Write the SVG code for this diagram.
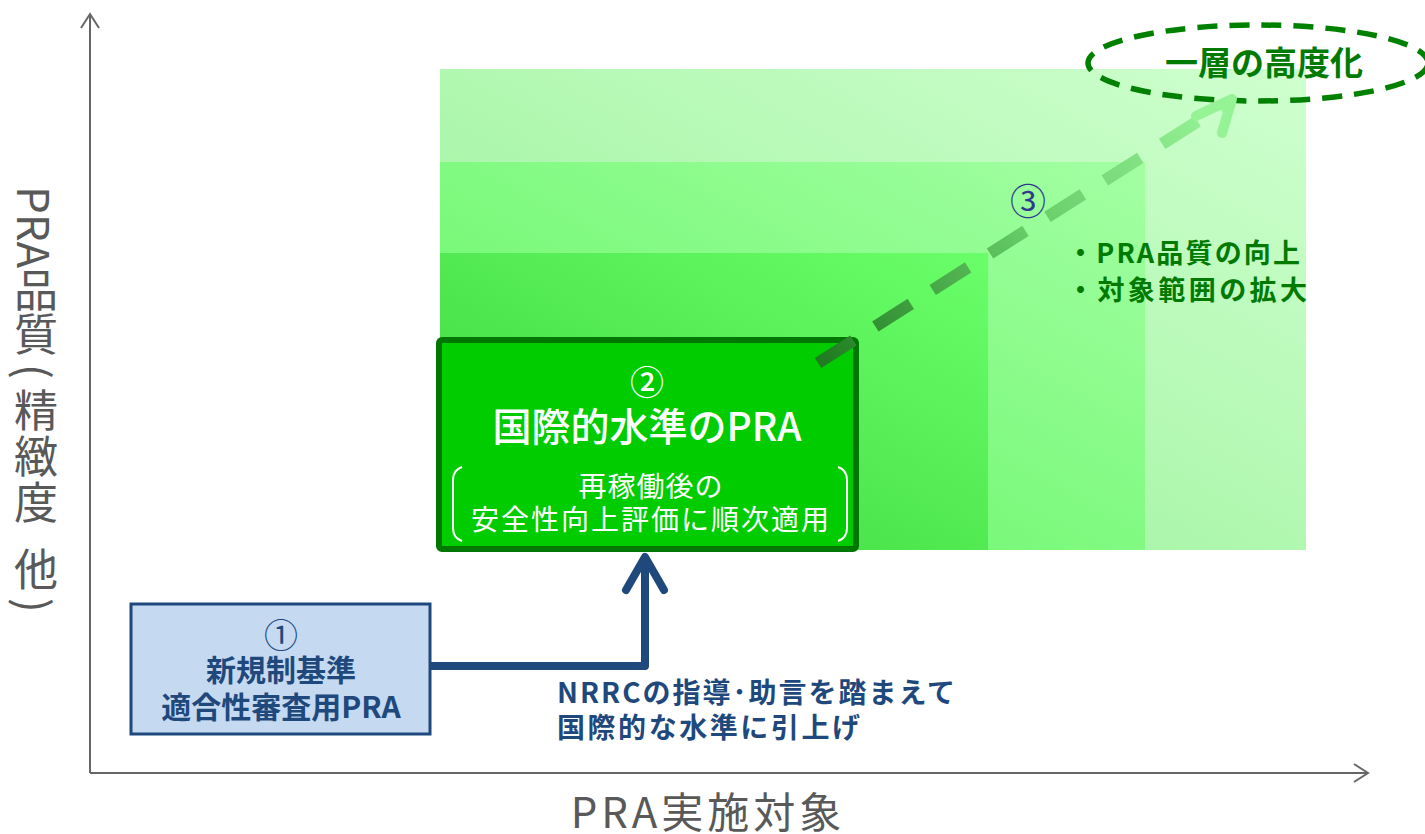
<svg xmlns="http://www.w3.org/2000/svg" width="1425" height="834" viewBox="0 0 1425 834">
<style>
.jp{font-family:"Noto Sans CJK JP","Noto Sans",sans-serif}
.axis{fill:none;stroke:#666;stroke-width:2}
.vl{font-size:44px;fill:#595959;writing-mode:vertical-rl}
.navy{fill:#1f497d}
.grn{fill:#007a00;font-weight:bold}
.wt{fill:#fff}
</style>
<defs>
<linearGradient id="g1" x1="0" y1="1" x2="1" y2="0">
<stop offset="0" stop-color="#93f093"/><stop offset="1" stop-color="#cfffcf"/>
</linearGradient>
<linearGradient id="g2" x1="0" y1="1" x2="1" y2="0">
<stop offset="0" stop-color="#5ff55f"/><stop offset="1" stop-color="#a3ffa3"/>
</linearGradient>
<linearGradient id="g3" x1="0" y1="1" x2="1" y2="0">
<stop offset="0" stop-color="#3ad43a"/><stop offset="1" stop-color="#6aff6a"/>
</linearGradient>
<linearGradient id="gd" gradientUnits="userSpaceOnUse" x1="818" y1="363" x2="1232" y2="100">
<stop offset="0" stop-color="#1f7a1f"/><stop offset="0.5" stop-color="#66cc66"/><stop offset="1" stop-color="#9af59a"/>
</linearGradient>
</defs>

<g id="axes">
<path class="axis" d="M90,773 V14 M81,28 L90,14 L99,28"/>
<path class="axis" d="M90,773 H1368 M1354,764 L1368,773 L1354,782"/>
<text class="jp vl" x="36" y="186">PRA品質</text>
<text class="jp vl" x="36" y="364">(</text>
<text class="jp vl" x="36" y="388" letter-spacing="2">精緻度</text>
<text class="jp vl" x="36" y="547">他</text>
<text class="jp vl" x="36" y="598">)</text>
<text class="jp" x="708" y="828" font-size="42" fill="#595959" text-anchor="middle" letter-spacing="4">PRA実施対象</text>
</g>

<g id="levels">
<rect x="440" y="69" width="866" height="481" fill="url(#g1)"/>
<rect x="440" y="162" width="705" height="388" fill="url(#g2)"/>
<rect x="440" y="253" width="548" height="297" fill="url(#g3)"/>
</g>

<g id="goal">
<ellipse cx="1258" cy="63" rx="170" ry="38" fill="none" stroke="#008000" stroke-width="5.5" stroke-dasharray="20 12"/>
<text class="jp grn" x="1264" y="75" font-size="33" text-anchor="middle" fill="#007a00">一層の高度化</text>
</g>

<g id="node2">
<rect x="439" y="340" width="417" height="209" rx="3" fill="#00cc00" stroke="#007700" stroke-width="6"/>
<text class="jp wt" x="647" y="395" font-size="34" font-weight="500" text-anchor="middle">②</text>
<text class="jp wt" x="647" y="441" font-size="39" font-weight="500" text-anchor="middle">国際的水準のPRA</text>
<text class="jp wt" x="651" y="497" font-size="28" text-anchor="middle" letter-spacing="1">再稼働後の</text>
<text class="jp wt" x="651" y="530" font-size="28" text-anchor="middle" letter-spacing="2">安全性向上評価に順次適用</text>
<path d="M462,467 Q453,470 453,480 V528 Q453,538 462,541" fill="none" stroke="#fff" stroke-width="2"/>
<path d="M838,467 Q847,470 847,480 V528 Q847,538 838,541" fill="none" stroke="#fff" stroke-width="2"/>
</g>

<g id="node1">
<rect x="131" y="604" width="299" height="130" fill="#c5d9f1" stroke="#1f497d" stroke-width="3"/>
<text class="jp navy" x="281" y="648" font-size="34" text-anchor="middle">①</text>
<text class="jp navy" x="281" y="681" font-size="30" font-weight="bold" text-anchor="middle">新規制基準</text>
<text class="jp navy" x="281" y="718" font-size="30" font-weight="bold" text-anchor="middle">適合性審査用PRA</text>
</g>

<g id="connectors">
<path d="M430,666 H645 V560" fill="none" stroke="#1f497d" stroke-width="8" stroke-linejoin="round"/>
<path d="M626,590 L645,557 L664,590" fill="none" stroke="#1f497d" stroke-width="8" stroke-linecap="round" stroke-linejoin="round"/>
<path d="M818,363 L1228,102" fill="none" stroke="url(#gd)" stroke-width="12" stroke-dasharray="42 26"/>
<path d="M1196,116 L1232,99 L1222,133" fill="none" stroke="#95f295" stroke-width="10" stroke-linecap="round" stroke-linejoin="round"/>
</g>

<g id="step3">
<text class="jp" x="1028" y="215" font-size="36" fill="#2e3a8c" text-anchor="middle">③</text>
<text class="jp grn" x="1067" y="263" font-size="27" fill="#007a00" textLength="233" lengthAdjust="spacing">・PRA品質の向上</text>
<text class="jp grn" x="1067" y="300" font-size="27" fill="#007a00" textLength="240" lengthAdjust="spacing">・対象範囲の拡大</text>
</g>

<g id="label">
<text class="jp navy" x="557" y="703" font-size="28" font-weight="bold" textLength="398" lengthAdjust="spacing">NRRCの指導･助言を踏まえて</text>
<text class="jp navy" x="557" y="738" font-size="28" font-weight="bold" textLength="303" lengthAdjust="spacing">国際的な水準に引上げ</text>
</g>
</svg>
